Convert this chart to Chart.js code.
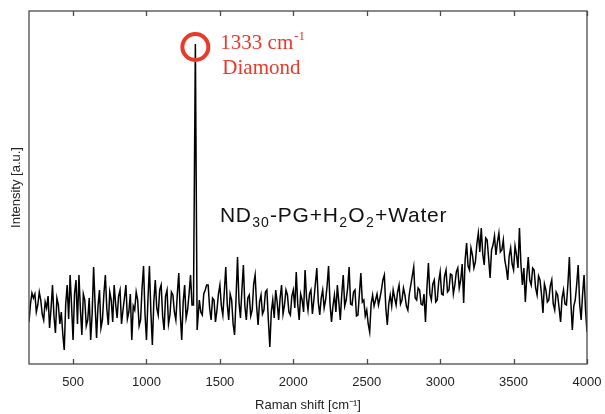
<!DOCTYPE html>
<html>
<head>
<meta charset="utf-8">
<script src="https://cdn.jsdelivr.net/npm/chart.js@4.4.0/dist/chart.umd.min.js"></script>
<style>
  html, body { margin: 0; padding: 0; background: #fff; }
</style>
</head>
<body>
<canvas id="myChart" width="605" height="414"></canvas>
<script>
// Raman shift (cm-1)
let shift = [
  200, 210, 220, 230, 240, 250, 260, 270, 280, 290,
  300, 310, 320, 330, 340, 350, 360, 370, 380, 390,
  400, 410, 420, 430, 440, 450, 460, 470, 480, 490,
  500, 510, 520, 530, 540, 550, 560, 570, 580, 590,
  600, 610, 620, 630, 640, 650, 660, 670, 680, 690,
  700, 710, 720, 730, 740, 750, 760, 770, 780, 790,
  800, 810, 820, 830, 840, 850, 860, 870, 880, 890,
  900, 910, 920, 930, 940, 950, 960, 970, 980, 990,
  1000, 1010, 1020, 1030, 1040, 1050, 1060, 1070, 1080, 1090,
  1100, 1110, 1120, 1130, 1140, 1150, 1160, 1170, 1180, 1190,
  1200, 1210, 1220, 1230, 1240, 1250, 1260, 1270, 1280, 1290,
  1300, 1310, 1320, 1333, 1345,
  1360, 1370, 1380, 1390, 1400, 1410, 1420, 1430, 1440, 1450,
  1460, 1470, 1480, 1490, 1500, 1510, 1520, 1530, 1540, 1550,
  1560, 1570, 1580, 1590, 1600, 1610, 1620, 1630, 1640, 1650,
  1660, 1670, 1680, 1690, 1700, 1710, 1720, 1730, 1740, 1750,
  1760, 1770, 1780, 1790, 1800, 1810, 1820, 1830, 1840, 1850,
  1860, 1870, 1880, 1890, 1900, 1910, 1920, 1930, 1940, 1950,
  1960, 1970, 1980, 1990, 2000, 2010, 2020, 2030, 2040, 2050,
  2060, 2070, 2080, 2090, 2100, 2110, 2120, 2130, 2140, 2150,
  2160, 2170, 2180, 2190, 2200, 2210, 2220, 2230, 2240, 2250,
  2260, 2270, 2280, 2290, 2300, 2310, 2320, 2330, 2340, 2350,
  2360, 2370, 2380, 2390, 2400, 2410, 2420, 2430, 2440, 2450,
  2460, 2470, 2480, 2490, 2500, 2510, 2520, 2530, 2540, 2550,
  2560, 2570, 2580, 2590, 2600, 2610, 2620, 2630, 2640, 2650,
  2660, 2670, 2680, 2690, 2700, 2710, 2720, 2730, 2740, 2750,
  2760, 2770, 2780, 2790, 2800, 2810, 2820, 2830, 2840, 2850,
  2860, 2870, 2880, 2890, 2900, 2910, 2920, 2930, 2940, 2950,
  2960, 2970, 2980, 2990, 3000, 3010, 3020, 3030, 3040, 3050,
  3060, 3070, 3080, 3090, 3100, 3110, 3120, 3130, 3140, 3150,
  3160, 3170, 3180, 3190, 3200, 3210, 3220, 3230, 3240, 3250,
  3260, 3270, 3280, 3290, 3300, 3310, 3320, 3330, 3340, 3350,
  3360, 3370, 3380, 3390, 3400, 3410, 3420, 3430, 3440, 3450,
  3460, 3470, 3480, 3490, 3500, 3510, 3520, 3530, 3540, 3550,
  3560, 3570, 3580, 3590, 3600, 3610, 3620, 3630, 3640, 3650,
  3660, 3670, 3680, 3690, 3700, 3710, 3720, 3730, 3740, 3750,
  3760, 3770, 3780, 3790, 3800, 3810, 3820, 3830, 3840, 3850,
  3860, 3870, 3880, 3890, 3900, 3910, 3920, 3930, 3940, 3950,
  3960, 3970, 3980, 3990, 4000
];

// intensity (a.u.)
let intensity = [
  42, 60, 71, 66, 70, 52, 59, 72, 64, 50,
  44, 62, 56, 68, 36, 55, 79, 48, 31, 66,
  59, 40, 52, 30, 14, 60, 79, 45, 89, 58,
  24, 70, 84, 40, 89, 55, 29, 70, 64, 38,
  44, 66, 24, 50, 97, 60, 26, 58, 74, 36,
  44, 70, 89, 55, 39, 72, 64, 42, 79, 60,
  46, 68, 74, 40, 54, 66, 79, 45, 52, 70,
  24, 58, 54, 72, 64, 38, 44, 76, 98, 50,
  24, 64, 98, 52, 19, 62, 84, 56, 49, 74,
  79, 48, 34, 68, 74, 40, 49, 72, 69, 52,
  44, 70, 91, 50, 24, 62, 79, 46, 54, 70,
  89, 59, 59, 320, 34,
  64, 52, 49, 70, 74, 79, 79, 56, 44, 66,
  64, 42, 54, 70, 79, 58, 49, 72, 97, 60,
  44, 70, 64, 40, 29, 66, 107, 62, 46, 74,
  99, 58, 44, 66, 69, 48, 54, 80, 89, 58,
  39, 62, 69, 50, 54, 72, 74, 44, 17, 52,
  64, 46, 74, 62, 44, 66, 79, 50, 59, 74,
  69, 52, 49, 68, 74, 56, 92, 60, 44, 70,
  64, 52, 94, 66, 54, 70, 74, 50, 64, 80,
  96, 62, 49, 66, 74, 56, 64, 78, 98, 60,
  42, 58, 69, 52, 79, 62, 44, 70, 89, 58,
  64, 76, 97, 60, 59, 72, 74, 48, 49, 70,
  91, 62, 64, 48, 54, 40, 32, 60, 69, 58,
  64, 70, 59, 66, 74, 84, 89, 56, 39, 60,
  69, 58, 74, 66, 59, 72, 79, 60, 64, 76,
  69, 58, 54, 70, 79, 88, 97, 66, 64, 76,
  74, 60, 59, 70, 42, 76, 101, 70, 64, 80,
  84, 62, 64, 82, 92, 70, 69, 88, 94, 72,
  74, 90, 89, 70, 79, 92, 96, 76, 84, 100,
  61, 104, 121, 98, 94, 116, 109, 96, 102, 120,
  131, 112, 136, 110, 99, 126, 124, 106, 86, 114,
  119, 128, 109, 122, 131, 112, 114, 124, 104, 96,
  84, 108, 116, 100, 94, 118, 109, 96, 136, 100,
  79, 96, 62, 88, 107, 84, 79, 96, 94, 76,
  69, 88, 84, 70, 51, 80, 74, 62, 64, 78,
  84, 60, 54, 72, 69, 56, 42, 66, 74, 60,
  59, 80, 107, 62, 34, 58, 64, 80, 99, 60,
  44, 70, 89, 54, 32
];

let xTicks = [500, 1000, 1500, 2000, 2500, 3000, 3500, 4000];

let peakShift = 1333;
let peakValue = 320;

let points = [];
for (let i in shift) {
  points.push({ x: shift[i], y: intensity[i] });
}

// frame with inward ticks + annotations
const framePlugin = {
  id: 'frame',
  afterDraw(chart) {
    const ctx = chart.ctx;
    const a = chart.chartArea;
    const xs = chart.scales.x;
    const ys = chart.scales.y;
    ctx.save();
    ctx.strokeStyle = '#4a4a4a';
    ctx.lineWidth = 1.3;
    ctx.strokeRect(a.left, a.top, a.right - a.left, a.bottom - a.top);
    ctx.beginPath();
    xTicks.forEach(v => {
      let px = Math.round(xs.getPixelForValue(v)) + 0.5;
      ctx.moveTo(px, a.bottom);
      ctx.lineTo(px, a.bottom - 5);
      ctx.moveTo(px, a.top);
      ctx.lineTo(px, a.top + 5);
    });
    ctx.stroke();

    // red circle on the diamond peak
    let cx = xs.getPixelForValue(peakShift);
    let cy = ys.getPixelForValue(peakValue);
    ctx.strokeStyle = '#e8392b';
    ctx.lineWidth = 4;
    ctx.beginPath();
    ctx.arc(cx, cy + 3, 13, 0, Math.PI * 2);
    ctx.stroke();

    ctx.fillStyle = '#e8392b';
    ctx.textBaseline = 'alphabetic';
    ctx.font = '21px "Liberation Serif", "DejaVu Serif", serif';
    let t1 = '1333 cm';
    ctx.fillText(t1, cx + 25, cy + 5);
    let w1 = ctx.measureText(t1).width;
    ctx.font = '13px "Liberation Serif", "DejaVu Serif", serif';
    ctx.fillText('-1', cx + 26 + w1, cy - 4);
    ctx.font = '21px "Liberation Serif", "DejaVu Serif", serif';
    ctx.fillText('Diamond', cx + 27, cy + 30);

    // sample label with subscripts
    let parts = [
      { t: 'ND', sub: false }, { t: '30', sub: true },
      { t: '-PG+H', sub: false }, { t: '2', sub: true },
      { t: 'O', sub: false }, { t: '2', sub: true },
      { t: '+Water', sub: false }
    ];
    let lx = xs.getPixelForValue(1500);
    let ly = ys.getPixelForValue(142);
    ctx.fillStyle = '#111';
    ctx.letterSpacing = '0.8px';
    parts.forEach(p => {
      ctx.font = p.sub ? '14px "Liberation Sans", Arial, sans-serif' : '21px "Liberation Sans", Arial, sans-serif';
      ctx.fillText(p.t, lx, p.sub ? ly + 5 : ly);
      lx += ctx.measureText(p.t).width + 0.5;
    });
    ctx.restore();
  }
};

let graphTarget = document.getElementById('myChart');
let spectrum = new Chart(graphTarget, {
  type: 'scatter',
  data: {
    datasets: [{
      label: 'ND30-PG+H2O2+Water',
      data: points,
      showLine: true,
      borderColor: '#000000',
      borderWidth: 1.5,
      pointRadius: 0,
      tension: 0
    }]
  },
  options: {
    responsive: false,
    animation: false,
    layout: { padding: { top: 11, right: 18, bottom: 0, left: 0 } },
    plugins: {
      legend: { display: false },
      tooltip: { enabled: false }
    },
    scales: {
      x: {
        type: 'linear',
        min: 200,
        max: 4000,
        afterBuildTicks: function(scale) {
          scale.ticks = xTicks.map(v => ({ value: v }));
        },
        afterFit: function(scale) {
          scale.height = 50;
        },
        grid: { display: false },
        border: { display: false },
        ticks: {
          color: '#222',
          padding: 3,
          maxRotation: 0,
          font: { family: '"Liberation Sans", Arial, sans-serif', size: 13 },
          callback: function(value) { return value + ''; }
        },
        title: {
          display: true,
          text: 'Raman shift [cm⁻¹]',
          color: '#222',
          padding: { top: 0, bottom: 1 },
          font: { family: '"Liberation Sans", Arial, sans-serif', size: 13 }
        }
      },
      y: {
        type: 'linear',
        min: 0,
        max: 353,
        afterFit: function(scale) {
          scale.width = 29;
        },
        grid: { display: false },
        border: { display: false },
        ticks: { display: false },
        title: {
          display: true,
          text: 'Intensity [a.u.]',
          color: '#222',
          padding: { top: 9, bottom: 0 },
          font: { family: '"Liberation Sans", Arial, sans-serif', size: 13 }
        }
      }
    }
  },
  plugins: [framePlugin]
});
</script>
</body>
</html>
